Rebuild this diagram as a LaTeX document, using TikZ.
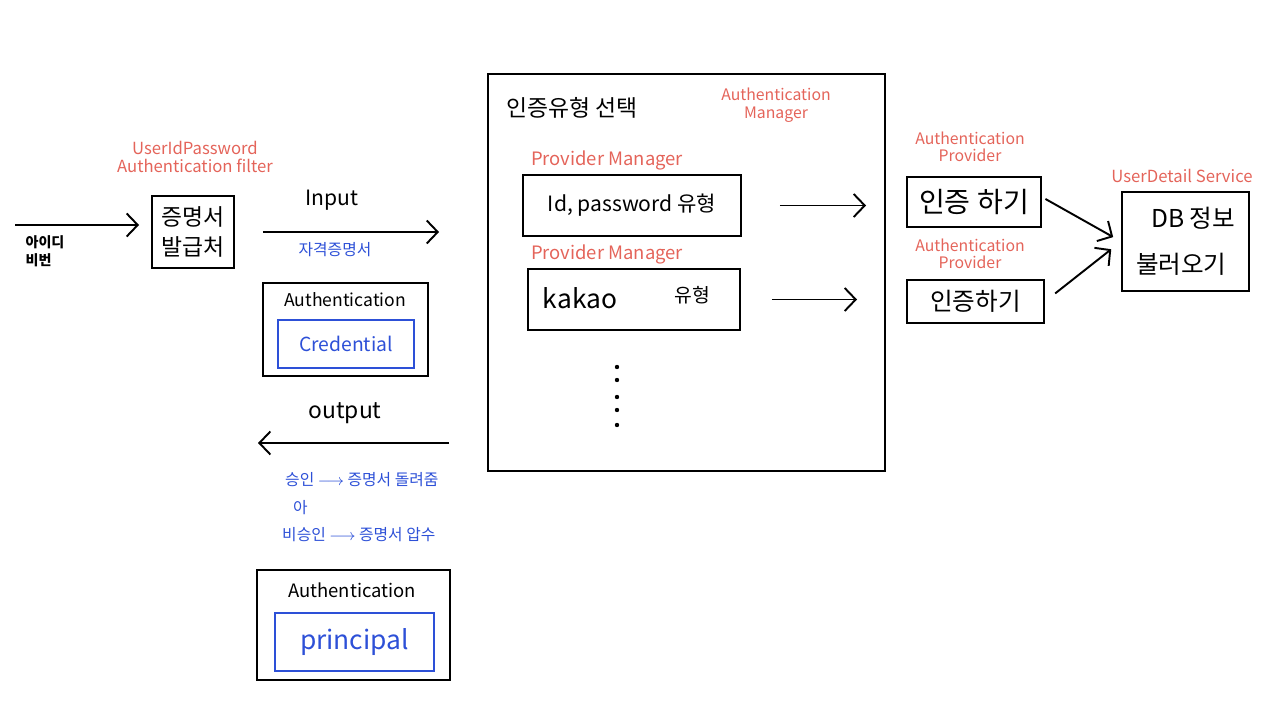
\documentclass[tikz,border=0pt]{standalone}
\usepackage{fontspec}
\setmainfont{Noto Sans CJK KR}
\usetikzlibrary{positioning,arrows.meta,calc}
\definecolor{notered}{RGB}{228,100,90}
\definecolor{noteblue}{RGB}{45,80,215}

\begin{document}
\begin{tikzpicture}[x=0.02cm,y=-0.02cm,
        box/.style={draw, line width=1.1pt, inner sep=0pt, align=center},
        innerbox/.style={draw=noteblue, line width=1.1pt, inner sep=0pt, text=noteblue},
        note/.style={text=notered, font=\fontsize{9.5}{10.5}\selectfont, align=center},
        bluenote/.style={text=noteblue, font=\fontsize{9}{11}\selectfont, anchor=west},
        flow/.style={line width=1.1pt, -{Straight Barb[length=2.2mm,width=4.6mm,line width=1.1pt]}},
        dot/.style={circle, fill, inner sep=0pt, minimum size=2.5pt},
    ]
        \useasboundingbox (0,0) rectangle (1279,723);

        % filter
        \node[box, minimum width=1.64cm, minimum height=1.44cm, font=\fontsize{13}{17}\selectfont] (filter) at (193,232) {증명서\\발급처};
        \node[note] (filterlbl) at (195,157) {UserIdPassword\\Authentication filter};
        \coordinate (user) at (15,225);
        \node[font=\fontsize{8}{10}\selectfont\bfseries, align=left] (userlbl) at (45,251) {아이디\\비번};

        % input / output
        \node[font=\fontsize{12}{14}\selectfont] (inlbl) at (332,200) {Input};
        \node[text=noteblue, font=\fontsize{9}{11}\selectfont] (cerlbl) at (335,250) {자격증명서};
        \node[box, minimum width=3.3cm, minimum height=1.86cm] (auth1) at (345.5,329.5) {};
        \node[font=\fontsize{10}{12}\selectfont] (auth1lbl) at (345,300) {Authentication};
        \node[innerbox, minimum width=2.72cm, minimum height=0.96cm, font=\fontsize{11}{13}\selectfont] (cred) at (346,344) {Credential};

        \node[font=\fontsize{13}{15}\selectfont] (outlbl) at (345,413) {output};
        \coordinate (back) at (258,443);
        \node[bluenote] (ok) at (279,480) {승인 $\longrightarrow$ 증명서 돌려줌};
        \node[bluenote] (or) at (287,508) {아};
        \node[bluenote] (nok) at (276,535) {비승인 $\longrightarrow$ 증명서 압수};
        \node[box, minimum width=3.86cm, minimum height=2.2cm] (auth2) at (353.5,625) {};
        \node[font=\fontsize{10.5}{12}\selectfont] (auth2lbl) at (352,590) {Authentication};
        \node[innerbox, minimum width=3.18cm, minimum height=1.16cm, font=\fontsize{15}{17}\selectfont] (princ) at (354.5,642) {principal};

        % manager
        \node[box, minimum width=7.94cm, minimum height=7.94cm] (mgr) at (686.5,272.5) {};
        \node[font=\fontsize{13}{15}\selectfont, anchor=west] (mgrlbl) at (500,108) {인증유형 선택};
        \node[note, font=\fontsize{9}{10}\selectfont] (mgrnote) at (776,105) {Authentication\\Manager};
        \node[note, font=\fontsize{10.5}{12}\selectfont] (pm1) at (607,160) {Provider Manager};
        \node[box, minimum width=4.36cm, minimum height=1.22cm, font=\fontsize{12}{14}\selectfont] (idpw) at (632,205.5) {Id, password 유형};
        \node[note, font=\fontsize{10.5}{12}\selectfont] (pm2) at (607,254) {Provider Manager};
        \node[box, minimum width=4.24cm, minimum height=1.22cm] (kakao) at (634,299.5) {};
        \node[font=\fontsize{15}{17}\selectfont] (kakaolbl) at (580,298) {kakao};
        \node[font=\fontsize{11}{13}\selectfont] (kakaotype) at (692,295) {유형};
        \foreach \y in {367,380,397,410,425}
            \node[dot] at (617,\y) {};

        % providers
        \node[note, font=\fontsize{9}{10}\selectfont] (ap1) at (970,147) {Authentication\\Provider};
        \node[box, minimum width=2.68cm, minimum height=1.0cm, font=\fontsize{16}{18}\selectfont] (prov1) at (974,202) {인증 하기};
        \node[note, font=\fontsize{9}{10}\selectfont] (ap2) at (970,254) {Authentication\\Provider};
        \node[box, minimum width=2.74cm, minimum height=0.86cm, font=\fontsize{14}{16}\selectfont] (prov2) at (975.5,301.5) {인증하기};

        % user detail service
        \node[note, font=\fontsize{9.5}{11}\selectfont] (uds) at (1182,176) {UserDetail Service};
        \node[box, minimum width=2.54cm, minimum height=1.98cm, align=left, font=\fontsize{14}{26}\selectfont] (db) at (1185.5,241.5) {\hspace{0.3cm}DB 정보\\불러오기};

        % connectors
        \draw[flow, shorten >=0.24cm] (user) -- (filter.west |- user);
        \draw[flow, shorten <=0.56cm, shorten >=0.96cm] (filter.east) -- (filter.east -| mgr.west);
        \draw[flow, shorten <=0.76cm] (mgr.west |- back) -- (back);
        \draw[flow, shorten <=0.76cm, shorten >=0.8cm] (idpw.east) -- (idpw.east -| prov1.west);
        \draw[flow, shorten <=0.62cm, shorten >=0.98cm] (kakao.east) -- (kakao.east -| prov2.west);
        \draw[flow, shorten <=0.08cm, shorten >=0.18cm] ([yshift=0.1cm]prov1.east) -- (db.west);
        \draw[flow, shorten <=0.26cm, shorten >=0.25cm] (prov2.east) -- (db.west);
\end{tikzpicture}
\end{document}
